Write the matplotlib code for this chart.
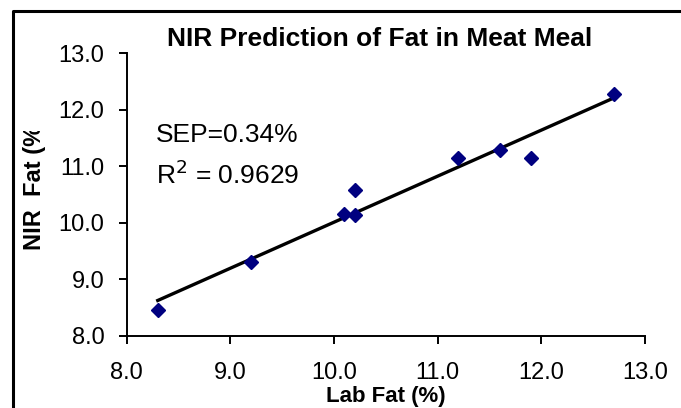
import numpy as np
import matplotlib
matplotlib.use("Agg")
import matplotlib.pyplot as plt
from matplotlib.lines import Line2D
from matplotlib.transforms import Bbox, TransformedBbox

plt.rcParams['font.family'] = ['Liberation Sans', 'DejaVu Sans']

# lab vs NIR fat values
lab_fat = np.array([8.3, 9.2, 10.1, 10.2, 10.2, 11.2, 11.6, 11.9, 12.7])
nir_fat = np.array([8.45, 9.30, 10.16, 10.57, 10.13, 11.15, 11.28, 11.15, 12.28])

ticks = [8.0, 9.0, 10.0, 11.0, 12.0, 13.0]
tick_labels = ["8.0", "9.0", "10.0", "11.0", "12.0", "13.0"]

slope, icpt = np.polyfit(lab_fat, nir_fat, 1)
x_fit = np.array([lab_fat.min(), lab_fat.max()])
y_fit = slope * x_fit + icpt

fig = plt.figure(figsize=(6.81, 4.08), dpi=100)
ax = fig.add_axes([0.186, 0.177, 0.761, 0.693])

ax.plot(x_fit, y_fit, color="black", linewidth=2.4, zorder=2)
ax.plot(lab_fat, nir_fat, linestyle="none", marker="D", markersize=7,
        color="#000080", zorder=3)

ax.set_xlim(8.0, 13.0)
ax.set_ylim(8.0, 13.0)
ax.set_xticks(ticks)
ax.set_xticklabels(tick_labels)
ax.set_yticks(ticks)
ax.set_yticklabels(tick_labels)
ax.tick_params(axis="both", direction="out", length=6, width=1.4,
               labelsize=17)
ax.tick_params(axis="x", pad=13)
ax.tick_params(axis="y", pad=10)
for s in ["top", "right"]:
    ax.spines[s].set_visible(False)
for s in ["left", "bottom"]:
    ax.spines[s].set_linewidth(1.4)

ax.text(0.056, 0.686, "SEP=0.34%", transform=ax.transAxes, fontsize=19,
        va="baseline")
ax.text(0.056, 0.537, "R$^2$ = 0.9629", transform=ax.transAxes,
        fontsize=19, va="baseline")

fig.text(0.558, 0.887, "NIR Prediction of Fat in Meat Meal", fontsize=19,
         fontweight="bold", ha="center", va="baseline")
fig.text(0.566, 0.015, "Lab Fat (%)", fontsize=16, fontweight="bold",
         ha="center", va="baseline")

ylab = fig.text(0.05, 1 - 250 / 408, "NIR  Fat (%)", fontsize=17,
                fontweight="bold", rotation=90, ha="center", va="bottom")
ylab.set_clip_box(TransformedBbox(Bbox([[0, 0], [0.2, 1 - 131 / 408]]),
                                  fig.transFigure))
ylab.set_clip_on(True)

# outer chart frame: only its top and left edges are inside the picture
fx = 12.5 / 681
fy = 1 - 10.5 / 408
fig.add_artist(Line2D([fx, fx, 1.05], [-0.05, fy, fy], transform=fig.transFigure,
                      color="black", linewidth=2.2, clip_on=False))

fig.savefig("out.png", dpi=100)
